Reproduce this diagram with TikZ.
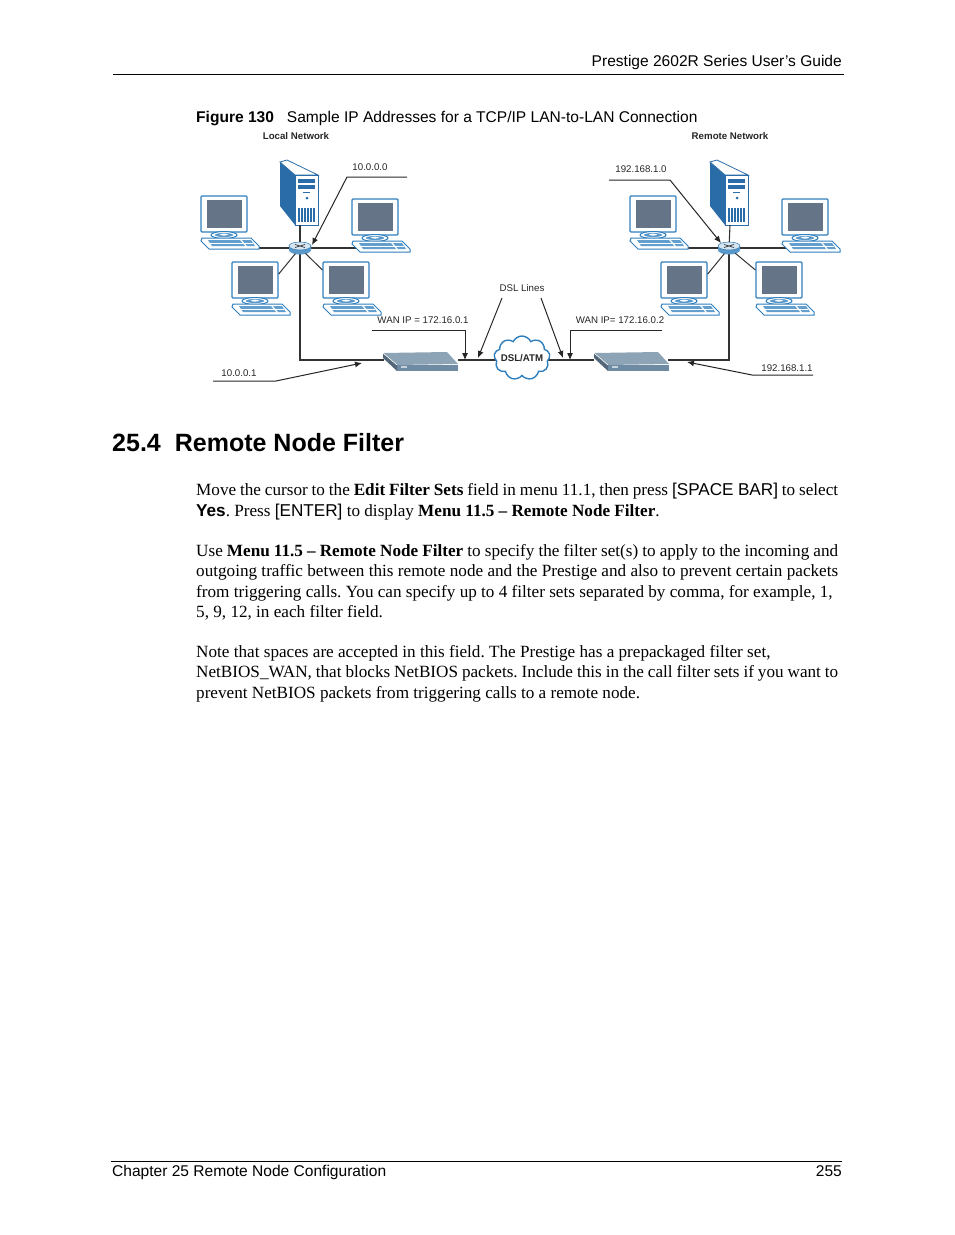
\documentclass[tikz,border=0pt]{standalone}
\usepackage{fontspec}
\setmainfont{Liberation Serif}
\setsansfont{Liberation Sans}
\usepackage{xcolor}
\usetikzlibrary{arrows.meta,shapes.geometric,shapes.symbols}
\definecolor{netblue}{HTML}{2F7FBE}
\definecolor{darkblue}{HTML}{2A6CA8}
\definecolor{screengray}{HTML}{667488}
\definecolor{modemtop}{HTML}{8DA4B6}
\definecolor{modemside}{HTML}{6F8BA3}
\frenchspacing
\newcommand{\fullline}[1]{\makebox[642pt][s]{#1}}
\begin{document}
\begin{tikzpicture}[x=1pt, y=-1pt, >=stealth, font=\sffamily]
\useasboundingbox (0,0) rectangle (954,1235);
\tikzset{>={Latex[width=6pt,length=7pt]}}
\tikzset{wire/.style={draw=black!80, line width=1.1pt}}
\tikzset{callout/.style={draw=black!85, line width=1pt}}
\tikzset{tinylabel/.style={font=\fontsize{9.7}{11}\selectfont\sffamily, text=black!85, inner sep=0pt}}
\tikzset{guidetext/.style={font=\fontsize{15.55}{18}\selectfont\sffamily, inner sep=0pt}}
\tikzset{bodytext/.style={font=\fontsize{17.15}{20.4}\selectfont\rmfamily, anchor=north west, inner sep=0pt, align=left}}
\tikzset{rulerline/.style={draw=black, line width=0.8pt}}
\tikzset{
  pc/.pic={
    \node[draw=netblue, fill=white, line width=1.2pt, rounded corners=1pt, minimum width=46pt, minimum height=36pt, inner sep=0pt] (-mon) at (23,18) {};
    \fill[screengray] (6,4) rectangle (41,32);
    \draw[netblue, fill=white, line width=1pt] (23,39) ellipse (13pt and 3.5pt);
    \fill[netblue!80] (23,39) ellipse (9pt and 2pt);
    \fill[white] (23,38.6) ellipse (4pt and 1pt);
    \draw[netblue, fill=white, line width=1pt] (1,42) -- (50,42) -- (58,50) -- (58,53) -- (8,53) -- (0,45) -- cycle;
    \fill[netblue!75] (7,44) -- (39,44) -- (44,50) -- (11,50) -- cycle;
    \fill[netblue!75] (41,44) -- (50,44) -- (54,50) -- (46,50) -- cycle;
    \draw[white, line width=0.5pt] (9,47) -- (52,47);
  },
  tower/.pic={
    \fill[darkblue] (0,2) -- (15,15) -- (15,65) -- (0,46) -- cycle;
    \draw[darkblue, fill=white, line width=0.8pt] (0,2) -- (7,0) -- (38,15) -- (15,15) -- cycle;
    \node[draw=darkblue, fill=white, line width=0.8pt, minimum width=23pt, minimum height=50pt, inner sep=0pt] (-box) at (26.5,40) {};
    \fill[darkblue] (18,19) rectangle (35,23);
    \fill[darkblue] (18,25) rectangle (35,29);
    \fill[darkblue] (23,32) rectangle (30,33);
    \fill[darkblue] (27,38) circle (1.5pt);
    \foreach \barx in {18,21,24,27,30,33} {
      \fill[darkblue] (\barx,48) rectangle (\barx+1.5,62);
    }
    \coordinate (-base) at (20,65);
  },
  hub/.pic={
    \fill[netblue!80] (-11,-2) -- (-11,2) arc (180:360:11pt and 4.5pt) -- (11,-2) -- cycle;
    \draw[netblue!90!black, fill=netblue!20, line width=0.5pt] (0,-2) ellipse (11pt and 4pt);
    \draw[black!80, line width=0.7pt] (-5,-3.5) -- (5,-0.5) (-5,-0.5) -- (5,-3.5);
  },
  modem/.pic={
    \fill[modemside] (14,13) rectangle (75,19);
    \fill[modemtop] (0,1) -- (64,0) -- (75,12) -- (14,13) -- cycle;
    \fill[modemside!75!black] (0,1) -- (14,13) -- (14,19) -- (0,6) -- cycle;
    \draw[white, line width=0.6pt] (0,1) -- (14,13);
    \fill[modemtop!50!white] (18,14) rectangle (24,15.5);
  }
}
\node[guidetext, anchor=base east] (guidetitle) at (842,66) {Prestige 2602R Series User’s Guide};
\draw[rulerline] (113,74.5) -- (844,74.5);
\node[guidetext, anchor=base west] (figcaption) at (196,122) {\textbf{Figure 130}\hspace{13pt}Sample IP Addresses for a TCP/IP LAN-to-LAN Connection};

\coordinate (portA) at (220,248);
\coordinate (portB) at (357,248);
\coordinate (portC) at (649,248);
\coordinate (portD) at (787,248);
\coordinate (modemLin) at (384,360);
\coordinate (modemLout) at (458,360);
\coordinate (modemRin) at (594,360);
\coordinate (modemRout) at (668,360);
\coordinate (cornerL) at (300,360);
\coordinate (cornerR) at (729,360);
\node[ellipse, minimum width=22pt, minimum height=12pt, inner sep=0pt] (routerL) at (300,248) {};
\node[ellipse, minimum width=22pt, minimum height=12pt, inner sep=0pt] (routerR) at (729,248) {};

\draw[wire] (portA) -- (portB);
\draw[wire] (portC) -- (portD);
\draw[wire] (routerL) -- (cornerL) -- (modemLin);
\draw[wire] (routerR) -- (cornerR) -- (modemRout);
\draw[wire] (modemLout) -- (modemRin);

\pic (pcA) at (201,196) {pc};
\pic (pcB) at (352,199) {pc};
\pic (pcC) at (232,262) {pc};
\pic (pcD) at (323,262) {pc};
\pic (pcE) at (630,196) {pc};
\pic (pcF) at (782,199) {pc};
\pic (pcG) at (661,262) {pc};
\pic (pcH) at (756,262) {pc};
\pic (serverL) at (280,160) {tower};
\pic (serverR) at (710,160) {tower};
\pic at (300,248) {hub};
\pic at (729,248) {hub};
\pic at (383,352) {modem};
\pic at (594,352) {modem};

\draw[wire] (routerL) -- (serverL-base);
\draw[wire] (routerR) -- (serverR-base);
\draw[wire, line width=1pt] (routerL) -- (pcC-mon.14);
\draw[wire, line width=1pt] (routerL) -- (pcD-mon.157);
\draw[wire, line width=1pt] (routerR) -- (pcG-mon.14);
\draw[wire, line width=1pt] (routerR) -- (pcH-mon.157);

\node[cloud, cloud puffs=9, cloud puff arc=130, aspect=1.3, draw=netblue, line width=1.4pt, fill=white, minimum width=56pt, minimum height=44pt, inner sep=0pt] (dslcloud) at (522,358) {};
\node[tinylabel, font=\fontsize{9.7}{11}\selectfont\sffamily\bfseries] (dsllabel) at (dslcloud) {DSL/ATM};

\node[tinylabel, font=\fontsize{9.7}{11}\selectfont\sffamily\bfseries] (localnet) at (296,136) {Local Network};
\node[tinylabel, font=\fontsize{9.7}{11}\selectfont\sffamily\bfseries] (remotenet) at (730,136) {Remote Network};
\node[tinylabel] (lanL) at (370,167) {10.0.0.0};
\node[tinylabel] (lanR) at (641,169) {192.168.1.0};
\node[tinylabel] (dsllines) at (522,288) {DSL Lines};
\node[tinylabel] (wanL) at (423,320) {WAN IP = 172.16.0.1};
\node[tinylabel] (wanR) at (620,320) {WAN IP= 172.16.0.2};
\node[tinylabel] (gwL) at (239,373) {10.0.0.1};
\node[tinylabel] (gwR) at (787,368) {192.168.1.1};

\coordinate (lanLa) at (407,177);
\coordinate (lanLb) at (347,177);
\coordinate (lanLtip) at (312,245);
\coordinate (lanRa) at (609,180);
\coordinate (lanRb) at (670,180);
\coordinate (lanRtip) at (721,243);
\coordinate (gwLa) at (213,381);
\coordinate (gwLb) at (276,381);
\coordinate (gwLtip) at (362,363);
\coordinate (gwRa) at (813,375);
\coordinate (gwRb) at (752,375);
\coordinate (gwRtip) at (687,362);
\coordinate (wanLa) at (372,330);
\coordinate (wanLb) at (465,330);
\coordinate (wanLtip) at (465,360);
\coordinate (wanRa) at (662,330);
\coordinate (wanRb) at (570,330);
\coordinate (wanRtip) at (570,360);
\coordinate (dslAa) at (502,298);
\coordinate (dslAtip) at (478,358);
\coordinate (dslBa) at (541,298);
\coordinate (dslBtip) at (563,358);
\draw[callout, ->] (lanLa) -- (lanLb) -- (lanLtip);
\draw[callout, ->] (lanRa) -- (lanRb) -- (lanRtip);
\draw[callout, ->] (gwLa) -- (gwLb) -- (gwLtip);
\draw[callout, ->] (gwRa) -- (gwRb) -- (gwRtip);
\draw[callout, ->] (wanLa) -- (wanLb) -- (wanLtip);
\draw[callout, ->] (wanRa) -- (wanRb) -- (wanRtip);
\draw[callout, ->] (dslAa) -- (dslAtip);
\draw[callout, ->] (dslBa) -- (dslBtip);

\node[anchor=base west, inner sep=0pt, font=\fontsize{25}{30}\selectfont\sffamily\bfseries] (sectionhead) at (112,451) {25.4\hspace{14pt}Remote Node Filter};

\node[bodytext] (paraA) at (196,483) {\fullline{Move the cursor to the \textbf{Edit Filter Sets} field in menu 11.1, then press {\sffamily [SPACE BAR]} to select}\\ \textbf{\sffamily Yes}. Press {\sffamily [ENTER]} to display \textbf{Menu 11.5 – Remote Node Filter}.};
\node[bodytext] (paraB) at (196,544) {\fullline{Use \textbf{Menu 11.5 – Remote Node Filter} to specify the filter set(s) to apply to the incoming and}\\ \fullline{outgoing traffic between this remote node and the Prestige and also to prevent certain packets}\\ from triggering calls. You can specify up to 4 filter sets separated by comma, for example, 1,\\ 5, 9, 12, in each filter field.};
\node[bodytext] (paraC) at (196,645) {Note that spaces are accepted in this field. The Prestige has a prepackaged filter set,\\ \fullline{NetBIOS\_WAN, that blocks NetBIOS packets. Include this in the call filter sets if you want to}\\ prevent NetBIOS packets from triggering calls to a remote node.};

\draw[rulerline] (111,1161.5) -- (842,1161.5);
\node[guidetext, anchor=base west] (chaptername) at (112,1176) {Chapter 25 Remote Node Configuration};
\node[guidetext, anchor=base east] (pagenum) at (842,1176) {255};
\end{tikzpicture}
\end{document}
